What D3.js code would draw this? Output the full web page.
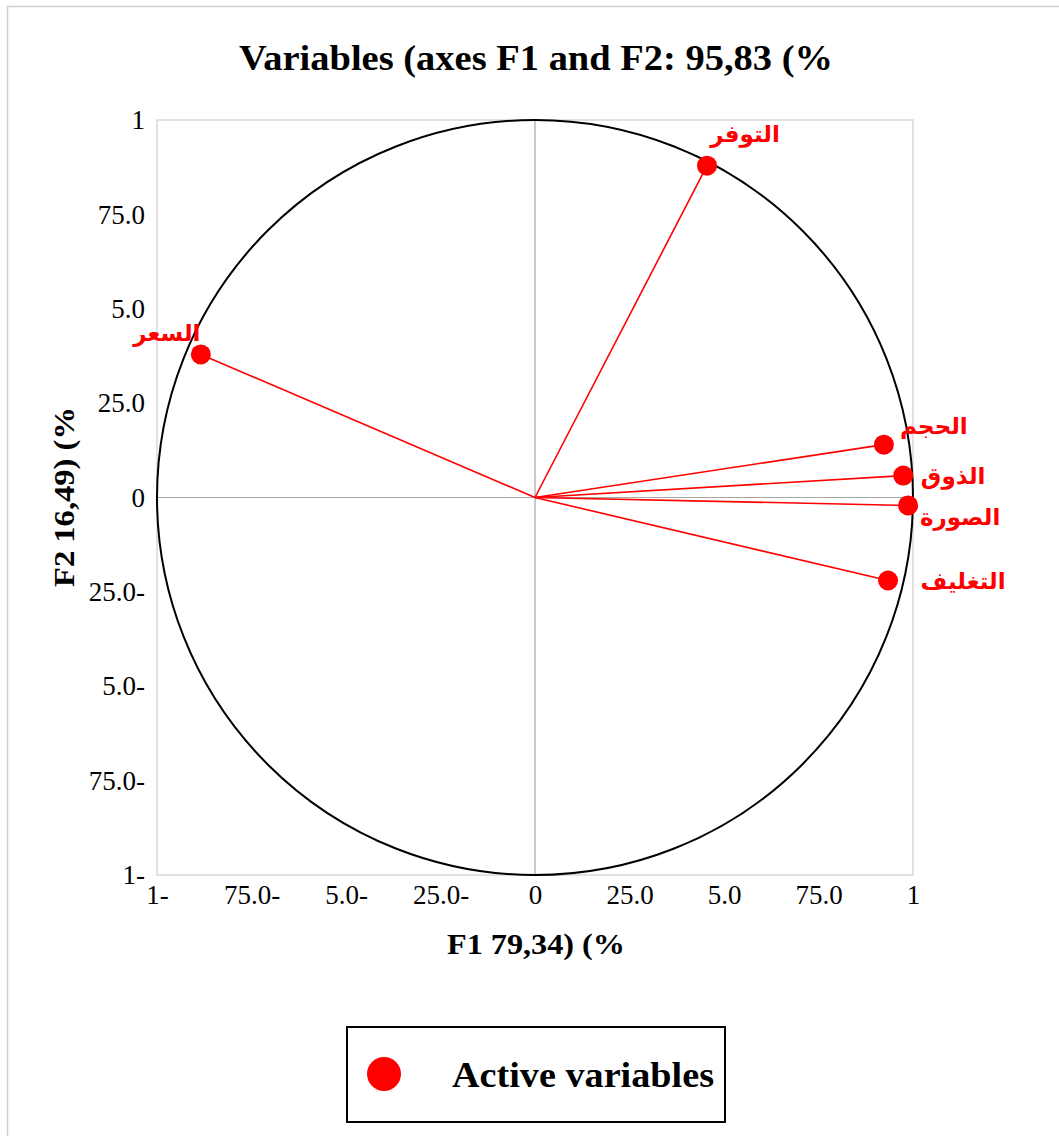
<!DOCTYPE html>
<html>
<head>
<meta charset="utf-8">
<script src="https://cdn.jsdelivr.net/npm/d3@7"></script>
<style>
  body { margin: 0; background: #fff; }
  svg { display: block; }
</style>
</head>
<body>
<div id="chart"></div>
<script>
// variable names (Arabic) and their coordinates on F1 / F2
var variables = ["التوفر", "السعر", "الحجم", "الذوق", "الصورة", "التغليف"];
var f1Values = [0.455, -0.884, 0.923, 0.974, 0.987, 0.934];
var f2Values = [0.879, 0.379, 0.140, 0.058, -0.021, -0.220];

// tick values and the labels as they appear on the chart
var tickValues = [-1, -0.75, -0.5, -0.25, 0, 0.25, 0.5, 0.75, 1];
var tickLabels = ["1-", "75.0-", "5.0-", "25.0-", "0", "25.0", "5.0", "75.0", "1"];

// where each label sits relative to its point (layout only)
var labelOffsets = [[38, -32], [-34, -21], [50, -19], [50, 0], [52, 12], [75, 0]];

var width = 1059, height = 1136;
var plot = { left: 157, right: 913, top: 120, bottom: 875 };

var svg = d3.select("#chart").append("svg")
    .attr("width", width)
    .attr("height", height);

// chart area border (only left and top edges are visible in the frame)
svg.append("path")
    .attr("d", "M7.5," + height + "V6.5H" + width)
    .attr("fill", "none")
    .attr("stroke", "#cfcfcf")
    .attr("stroke-width", 1.5);

var x = d3.scaleLinear().domain([-1, 1]).range([plot.left, plot.right]);
var y = d3.scaleLinear().domain([-1, 1]).range([plot.bottom, plot.top]);

// plot area border
svg.append("rect")
    .attr("x", plot.left)
    .attr("y", plot.top)
    .attr("width", plot.right - plot.left)
    .attr("height", plot.bottom - plot.top)
    .attr("fill", "none")
    .attr("stroke", "#d9d9d9")
    .attr("stroke-width", 1.5);

// zero lines
svg.append("line")
    .attr("x1", x(0)).attr("x2", x(0))
    .attr("y1", y(-1)).attr("y2", y(1))
    .attr("stroke", "#a6a6a6").attr("stroke-width", 1.2);
svg.append("line")
    .attr("x1", x(-1)).attr("x2", x(1))
    .attr("y1", y(0)).attr("y2", y(0))
    .attr("stroke", "#a6a6a6").attr("stroke-width", 1.2);

// unit correlation circle
svg.append("ellipse")
    .attr("cx", x(0))
    .attr("cy", y(0))
    .attr("rx", x(1) - x(0))
    .attr("ry", y(-1) - y(0))
    .attr("fill", "none")
    .attr("stroke", "#000")
    .attr("stroke-width", 2);

// axes
var fmt = function(d) { return tickLabels[tickValues.indexOf(d)]; };

var yAxis = svg.append("g")
    .attr("transform", "translate(" + plot.left + ",0)")
    .call(d3.axisLeft(y).tickValues(tickValues).tickFormat(fmt).tickSize(0).tickPadding(12));

var xAxis = svg.append("g")
    .attr("transform", "translate(0," + plot.bottom + ")")
    .call(d3.axisBottom(x).tickValues(tickValues).tickFormat(fmt).tickSize(0).tickPadding(10));

[xAxis, yAxis].forEach(function(ax) {
    ax.select(".domain").remove();
    ax.selectAll("text")
        .attr("font-family", "'Liberation Serif', serif")
        .attr("font-size", 27)
        .attr("fill", "#000");
});

var data = variables.map(function(name, i) {
    return { name: name, f1: f1Values[i], f2: f2Values[i], off: labelOffsets[i] };
});

// vectors from the origin
svg.append("g").selectAll("line")
    .data(data)
    .enter()
    .append("line")
    .attr("x1", x(0))
    .attr("y1", y(0))
    .attr("x2", function(d) { return x(d.f1); })
    .attr("y2", function(d) { return y(d.f2); })
    .attr("stroke", "#ff0000")
    .attr("stroke-width", 1.6);

svg.append("g").selectAll("circle")
    .data(data)
    .enter()
    .append("circle")
    .attr("cx", function(d) { return x(d.f1); })
    .attr("cy", function(d) { return y(d.f2); })
    .attr("r", 10)
    .attr("fill", "#ff0000");

svg.append("g").selectAll("text")
    .data(data)
    .enter()
    .append("text")
    .attr("x", function(d) { return x(d.f1) + d.off[0]; })
    .attr("y", function(d) { return y(d.f2) + d.off[1]; })
    .attr("text-anchor", "middle")
    .attr("dominant-baseline", "central")
    .attr("font-family", "'DejaVu Sans', sans-serif")
    .attr("font-weight", "bold")
    .attr("font-size", 23)
    .attr("fill", "#ff0000")
    .text(function(d) { return d.name; });

// titles
svg.append("text")
    .attr("x", 536)
    .attr("y", 70)
    .attr("text-anchor", "middle")
    .attr("font-family", "'Liberation Serif', serif")
    .attr("font-weight", "bold")
    .attr("font-size", 35)
    .attr("textLength", 594)
    .attr("lengthAdjust", "spacingAndGlyphs")
    .text("Variables (axes F1 and F2: 95,83 (%");

svg.append("text")
    .attr("x", 536)
    .attr("y", 954)
    .attr("text-anchor", "middle")
    .attr("font-family", "'Liberation Serif', serif")
    .attr("font-weight", "bold")
    .attr("font-size", 30)
    .attr("textLength", 178)
    .attr("lengthAdjust", "spacingAndGlyphs")
    .text("F1 79,34) (%");

svg.append("text")
    .attr("transform", "translate(74,497) rotate(-90)")
    .attr("text-anchor", "middle")
    .attr("font-family", "'Liberation Serif', serif")
    .attr("font-weight", "bold")
    .attr("font-size", 30)
    .attr("textLength", 180)
    .attr("lengthAdjust", "spacingAndGlyphs")
    .text("F2 16,49) (%");

// legend
var legend = svg.append("g");
legend.append("rect")
    .attr("x", 347).attr("y", 1027)
    .attr("width", 378).attr("height", 95)
    .attr("fill", "#fff")
    .attr("stroke", "#000")
    .attr("stroke-width", 2);
legend.append("circle")
    .attr("cx", 384).attr("cy", 1074)
    .attr("r", 17)
    .attr("fill", "#ff0000");
legend.append("text")
    .attr("x", 452).attr("y", 1087)
    .attr("font-family", "'Liberation Serif', serif")
    .attr("font-weight", "bold")
    .attr("font-size", 36)
    .attr("textLength", 262)
    .attr("lengthAdjust", "spacingAndGlyphs")
    .text("Active variables");
</script>
</body>
</html>
